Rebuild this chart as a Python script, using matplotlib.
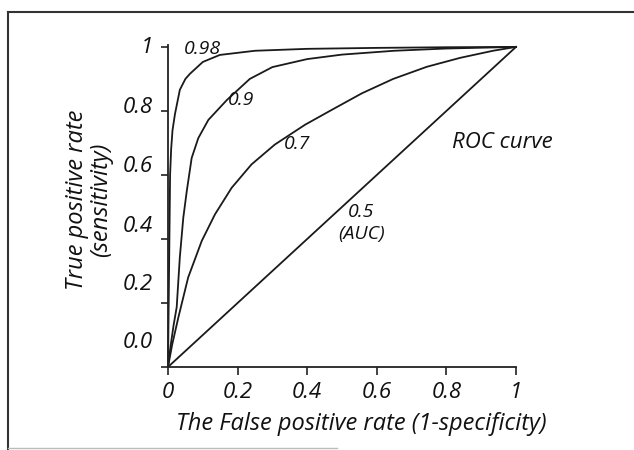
import matplotlib
matplotlib.use("Agg")
import matplotlib.pyplot as plt
from matplotlib.lines import Line2D

# curves (false positive rate, true positive rate)
fpr_98 = [0, 0.002, 0.004, 0.006, 0.009, 0.013, 0.02, 0.034, 0.05, 0.063, 0.10, 0.149, 0.25, 0.40, 0.60, 0.80, 1.0]
tpr_98 = [0, 0.20, 0.40, 0.60, 0.68, 0.74, 0.79, 0.866, 0.90, 0.916, 0.953, 0.975, 0.988, 0.994, 0.997, 0.999, 1.0]

fpr_90 = [0, 0.008, 0.016, 0.025, 0.034, 0.044, 0.054, 0.068, 0.087, 0.116, 0.169, 0.235, 0.30, 0.40, 0.50, 0.65, 0.80, 1.0]
tpr_90 = [0, 0.07, 0.13, 0.187, 0.343, 0.467, 0.55, 0.653, 0.715, 0.772, 0.834, 0.90, 0.937, 0.962, 0.976, 0.988, 0.995, 1.0]

fpr_70 = [0, 0.012, 0.030, 0.058, 0.097, 0.135, 0.183, 0.240, 0.307, 0.394, 0.470, 0.557, 0.647, 0.744, 0.84, 0.934, 1.0]
tpr_70 = [0, 0.07, 0.156, 0.280, 0.394, 0.477, 0.560, 0.633, 0.695, 0.757, 0.803, 0.855, 0.90, 0.938, 0.966, 0.988, 1.0]

fpr_50 = [0, 1.0]
tpr_50 = [0, 1.0]

curve_labels = ["0.98", "0.9", "0.7", "0.5\n(AUC)"]
label_x = [0.046, 0.172, 0.333, 0.555]
label_y = [0.994, 0.835, 0.696, 0.45]

xticks = [0, 0.2, 0.4, 0.6, 0.8, 1]
xticklabels = ["0", "0.2", "0.4", "0.6", "0.8", "1"]
yticks = [0, 0.2, 0.4, 0.6, 0.8, 1]
# the printed y labels sit a little off their ticks in the original
ylabel_pos = [0.084, 0.264, 0.447, 0.634, 0.820, 1.006]
yticklabels = ["0.0", "0.2", "0.4", "0.6", "0.8", "1"]

plt.rcParams['font.family'] = ['Open Sans', 'DejaVu Sans']
plt.rcParams['font.style'] = 'italic'
plt.rcParams['text.color'] = '#111111'

fig = plt.figure(figsize=(6.34, 4.5), dpi=100)
ax = fig.add_axes([168/634, 1-367/450, 348/634, 322/450])

for xs, ys in [(fpr_98, tpr_98), (fpr_90, tpr_90), (fpr_70, tpr_70), (fpr_50, tpr_50)]:
    ax.plot(xs, ys, color='#1a1a1a', lw=1.3, clip_on=False)

for txt, x, y in zip(curve_labels, label_x, label_y):
    ha = 'center' if '\n' in txt else 'left'
    ax.text(x, y, txt, fontsize=14, ha=ha, va='center', linespacing=1.25)

ax.text(0.96, 0.70, "ROC curve", fontsize=16, ha='center', va='center')

ax.set_xlim(0, 1)
ax.set_ylim(0, 1)
ax.spines['top'].set_visible(False)
ax.spines['right'].set_visible(False)
for s in ['left', 'bottom']:
    ax.spines[s].set_linewidth(1.3)
    ax.spines[s].set_color('#222222')

ax.set_xticks(xticks)
ax.set_xticklabels(xticklabels, fontsize=16, color='#111111')
ax.tick_params(axis='x', length=6, width=1.2, pad=5, color='#222222')

ax.set_yticks(yticks)
ax.set_yticklabels([''] * len(yticks))
ax.tick_params(axis='y', which='major', length=5, width=1.2, color='#222222')
ax.set_yticks(ylabel_pos, minor=True)
ax.set_yticklabels(yticklabels, minor=True, fontsize=16, color='#111111')
ax.tick_params(axis='y', which='minor', length=0, pad=11)

fig.text(89/634, 1-200/450, "True positive rate\n(sensitivity)", rotation=90,
         ha='center', va='center', fontsize=17, linespacing=1.05)
fig.text(361/634, 1-424/450, "The False positive rate (1-specificity)",
         ha='center', va='center', fontsize=17)

# scanned frame around the figure
fig.add_artist(Line2D([8/634, 1], [1-12/450, 1-12/450], transform=fig.transFigure, color='#333333', lw=1.5))
fig.add_artist(Line2D([8/634, 8/634], [0, 1-12/450], transform=fig.transFigure, color='#333333', lw=1.5))
fig.add_artist(Line2D([8/634, 337/634], [2/450, 2/450], transform=fig.transFigure, color='#bbbbbb', lw=1))

plt.savefig("out.png", dpi=100)
